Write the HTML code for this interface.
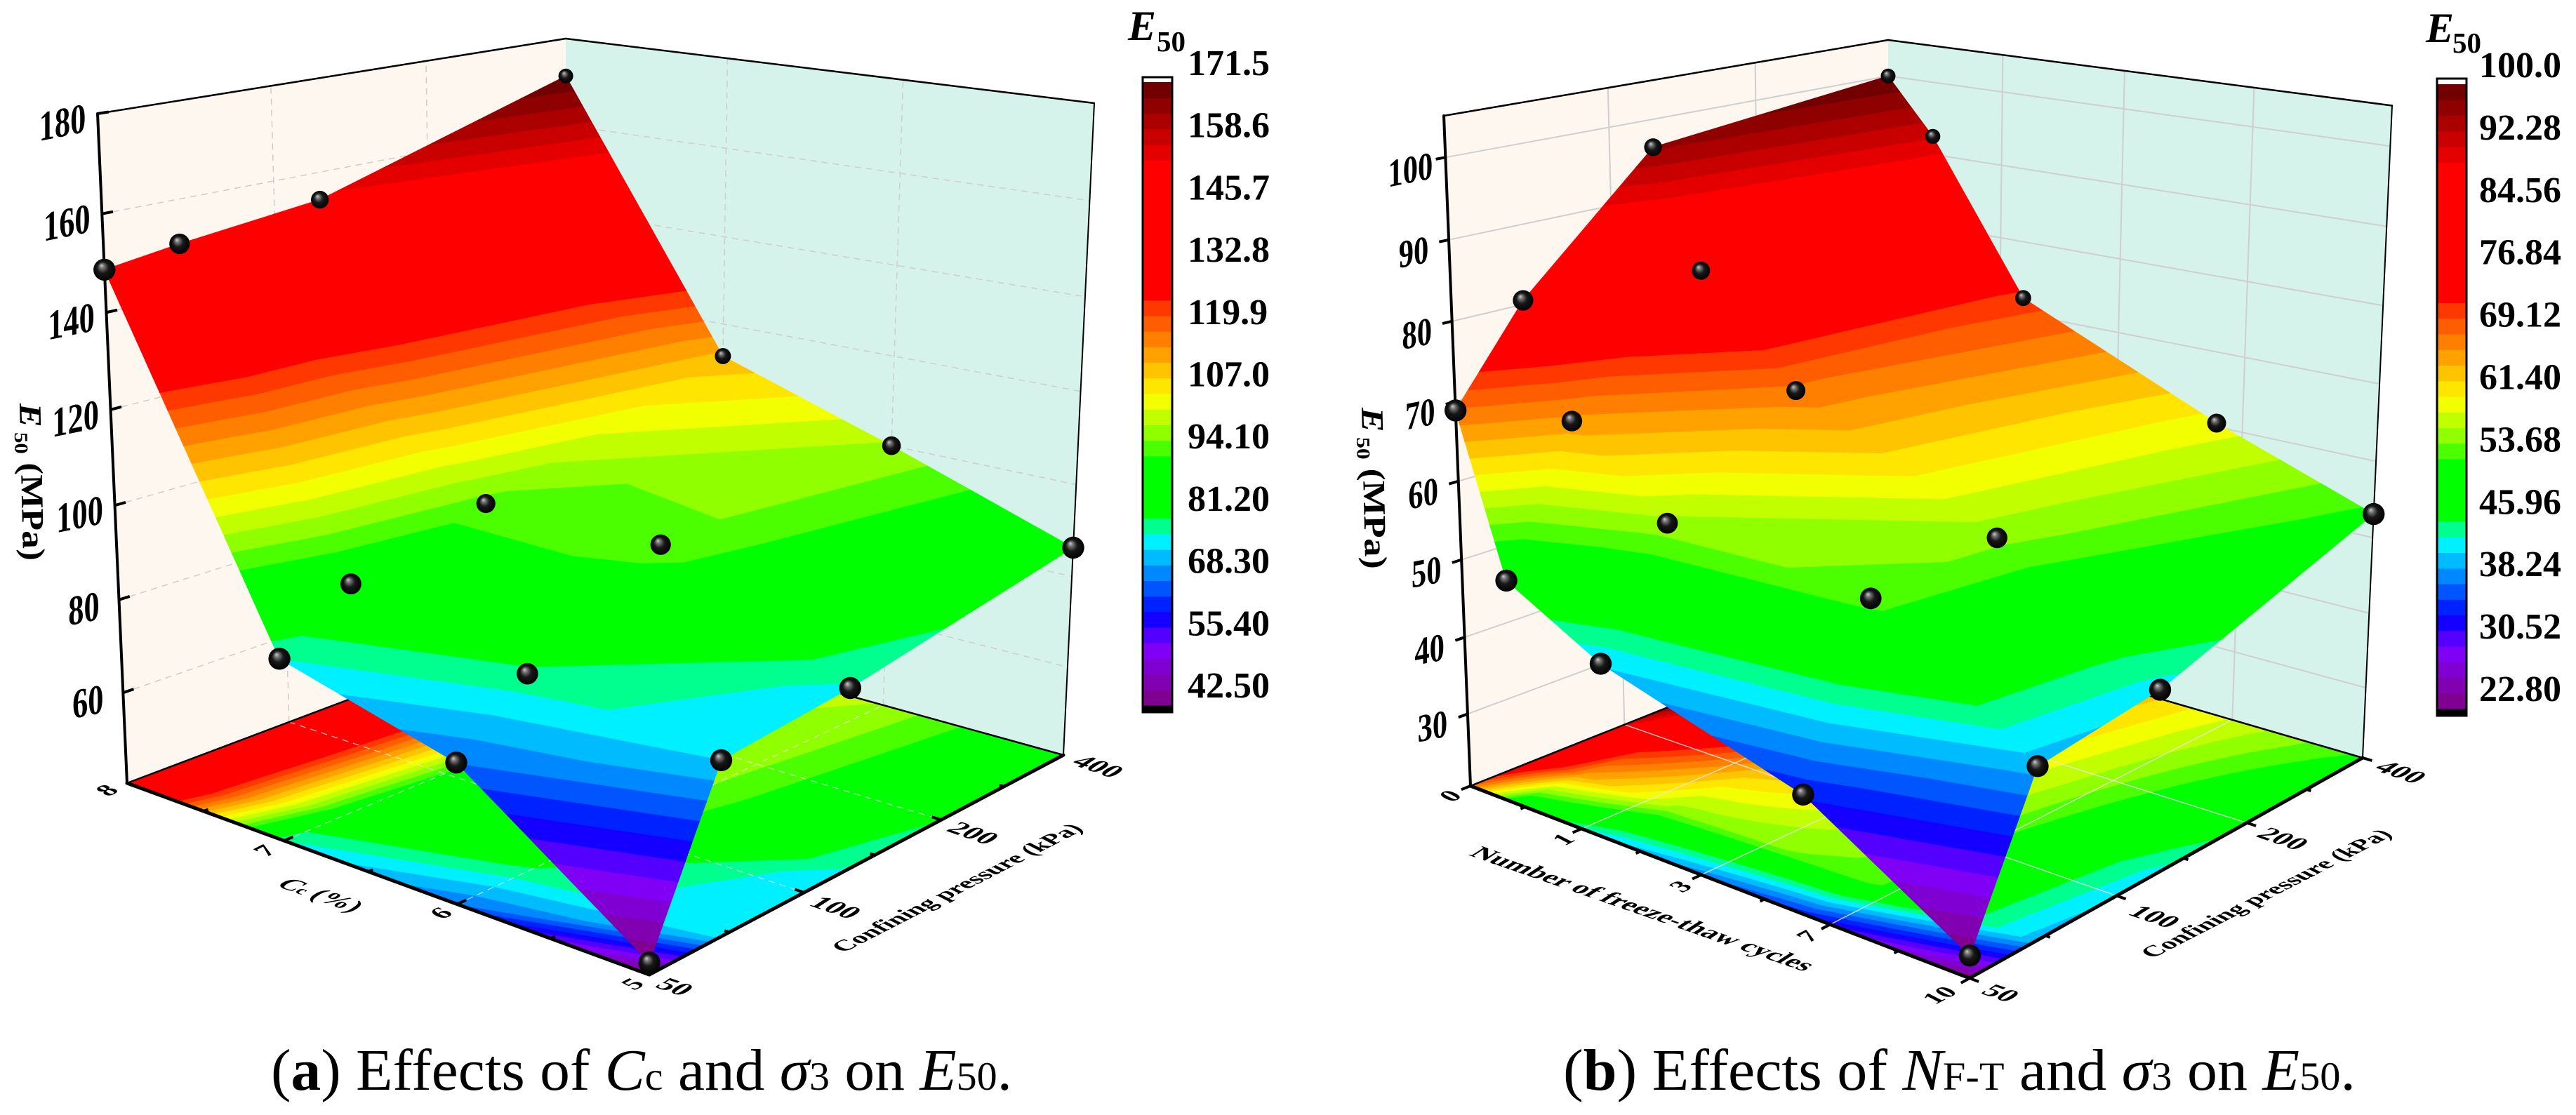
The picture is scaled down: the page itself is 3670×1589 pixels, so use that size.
<!DOCTYPE html>
<html lang="en">
<head>
<meta charset="utf-8">
<title>E50 response surfaces</title>
<style>
html,body{margin:0;padding:0;background:#fff;}
svg{display:block;font-family:"Liberation Serif",serif;}
.b{font-weight:bold;}
</style>
</head>
<body>
<svg id="root" xmlns="http://www.w3.org/2000/svg" width="3670" height="1589" viewBox="0 0 3670 1589">
<defs>
<radialGradient id="sphere" cx="0.5" cy="0.5" r="0.52" fx="0.36" fy="0.3">
<stop offset="0" stop-color="#cfcfcf"/>
<stop offset="0.2" stop-color="#747474"/>
<stop offset="0.5" stop-color="#181818"/>
<stop offset="1" stop-color="#000"/>
</radialGradient>
</defs>
<rect width="3670" height="1589" fill="#fff"/>
<g id="chart-a"></g>
<g id="chart-b"></g>

<text x="1607" y="57" font-size="60" class="b" font-style="italic">E</text>
<text x="1648" y="73" font-size="41" class="b">50</text>
<text x="3456" y="60" font-size="60" class="b" font-style="italic">E</text>
<text x="3494" y="75" font-size="41" class="b">50</text>

<text transform="translate(28,575) rotate(88.7) scale(1.14,1)" font-size="45" class="b"><tspan font-style="italic">E</tspan><tspan font-size="27" dy="8" dx="6">50</tspan><tspan dy="-8"> (MPa)</tspan></text>
<text transform="translate(1940,581) rotate(88.7) scale(1.17,1)" font-size="45" class="b"><tspan font-style="italic">E</tspan><tspan font-size="27" dy="8" dx="6">50</tspan><tspan dy="-8"> (MPa)</tspan></text>

<text x="386" y="1553" font-size="84" textLength="1056" lengthAdjust="spacingAndGlyphs">(<tspan class="b">a</tspan>) Effects of <tspan font-style="italic">C</tspan><tspan font-size="57">c</tspan> and <tspan font-style="italic">σ</tspan><tspan font-size="57">3</tspan> on <tspan font-style="italic">E</tspan><tspan font-size="57">50</tspan>.</text>
<text x="2227" y="1553" font-size="84" textLength="1129" lengthAdjust="spacingAndGlyphs">(<tspan class="b">b</tspan>) Effects of <tspan font-style="italic">N</tspan><tspan font-size="57">F-T</tspan> and <tspan font-style="italic">σ</tspan><tspan font-size="57">3</tspan> on <tspan font-style="italic">E</tspan><tspan font-size="57">50</tspan>.</text>
</svg>

<script>
/* ---------- chart data ---------- */
const sigmaValues = [50, 100, 200, 400];
const sigmaTickLabels = ['50', '100', '200', '400'];

const ccValues = [8, 7, 6, 5];
const ccTickLabels = ['8', '7', '6', '5'];
const zTicksA = [60, 80, 100, 120, 140, 160, 180];
const colorbarLabelsA = ['171.5','158.6','145.7','132.8','119.9','107.0','94.10','81.20','68.30','55.40','42.50'];
/* rows follow ccValues, columns follow sigmaValues */
const e50RowCc8 = [148.7, 150.8, 154.1, 171.4];
const e50RowCc7 = [78.0, 88.3, 95.9, 112.6];
const e50RowCc6 = [68.4, 80.3, 96.4, 100.0];
const e50RowCc5 = [42.6, 74.7, 77.4, 86.3];

const cyclesValues = [0, 1, 3, 7, 10];
const cyclesTickLabels = ['0', '1', '3', '7', '10'];
const zTicksB = [30, 40, 50, 60, 70, 80, 90, 100];
const colorbarLabelsB = ['100.0','92.28','84.56','76.84','69.12','61.40','53.68','45.96','38.24','30.52','22.80'];
/* rows follow cyclesValues, columns follow sigmaValues */
const e50RowN0 = [68.9, 80.5, 96.4, 100.0];
const e50RowN1 = [49.1, 66.6, 81.5, 92.5];
const e50RowN3 = [42.4, 56.9, 68.6, 72.2];
const e50RowN7 = [34.8, 54.7, 56.2, 60.5];
const e50RowN10 = [23.1, 41.0, 43.1, 53.1];

/* ---------- colour map ---------- */
const cmapStops = [
  [0.000, [128, 0, 128]],
  [0.095, [128, 0, 255]],
  [0.146, [0, 0, 255]],
  [0.270, [0, 255, 255]],
  [0.310, [0, 255, 0]],
  [0.405, [0, 255, 0]],
  [0.415, [100, 255, 0]],
  [0.494, [255, 255, 0]],
  [0.635, [255, 64, 0]],
  [0.655, [255, 0, 0]],
  [0.865, [255, 0, 0]],
  [1.000, [100, 0, 0]]
];
const LEVELS = 40;

function cmap(s) {
  for (let i = 1; i < cmapStops.length; i++) {
    if (s <= cmapStops[i][0]) {
      const a = cmapStops[i - 1], b = cmapStops[i];
      const t = (s - a[0]) / (b[0] - a[0]);
      const c = a[1].map((v, k) => Math.round(v + (b[1][k] - v) * t));
      return 'rgb(' + c.join(',') + ')';
    }
  }
  return 'rgb(100,0,0)';
}

const SVGNS = 'http://www.w3.org/2000/svg';
function make(parent, tag, attrs, text) {
  const el = document.createElementNS(SVGNS, tag);
  for (const k in attrs) el.setAttribute(k, attrs[k]);
  if (text !== undefined) el.textContent = text;
  parent.appendChild(el);
  return el;
}

function homography(p0, p1, p2, p3) {
  const dx1 = p1[0] - p2[0], dx2 = p3[0] - p2[0], sx = p0[0] - p1[0] + p2[0] - p3[0];
  const dy1 = p1[1] - p2[1], dy2 = p3[1] - p2[1], sy = p0[1] - p1[1] + p2[1] - p3[1];
  const den = dx1 * dy2 - dx2 * dy1;
  const g = (sx * dy2 - dx2 * sy) / den, h = (dx1 * sy - sx * dy1) / den;
  const a = p1[0] - p0[0] + g * p1[0], b = p3[0] - p0[0] + h * p3[0], c = p0[0];
  const d = p1[1] - p0[1] + g * p1[1], e = p3[1] - p0[1] + h * p3[1], f = p0[1];
  return (u, v) => {
    const w = g * u + h * v + 1;
    return [(a * u + b * v + c) / w, (d * u + e * v + f) / w];
  };
}

function clipPoly(poly, lim, keepAbove) {
  const out = [];
  for (let i = 0; i < poly.length; i++) {
    const a = poly[i], b = poly[(i + 1) % poly.length];
    const ina = keepAbove ? a.v >= lim : a.v <= lim;
    const inb = keepAbove ? b.v >= lim : b.v <= lim;
    if (ina) out.push(a);
    if (ina !== inb) {
      const t = (lim - a.v) / (b.v - a.v);
      out.push({ x: a.x + (b.x - a.x) * t, y: a.y + (b.y - a.y) * t, v: lim });
    }
  }
  return out;
}

function drawChart(cfg) {
  const root = document.getElementById(cfg.id);
  const floor = homography(cfg.floorL, cfg.floorF, cfg.floorR, cfg.floorB);
  const top = homography(cfg.topL, cfg.topF, cfg.topR, cfg.topB);
  const K = 0.95;

  function project(cf, sf, v) {
    const f = (v - cfg.zMin) / (cfg.zMax - cfg.zMin);
    const t = f * K / (1 + f * (K - 1));
    const a = floor(cf, sf), b = top(cf, sf);
    return [a[0] + (b[0] - a[0]) * t, a[1] + (b[1] - a[1]) * t];
  }
  const xFrac = x => (x - cfg.xValues[0]) / (cfg.xValues[cfg.xValues.length - 1] - cfg.xValues[0]);
  const sFrac = s => (s - sigmaValues[0]) / (sigmaValues[sigmaValues.length - 1] - sigmaValues[0]);
  const pts = list => list.map(p => p[0].toFixed(1) + ',' + p[1].toFixed(1)).join(' ');

  /* walls */
  const wallL = make(root, 'polygon', { points: pts([cfg.floorL, cfg.floorB, cfg.topB, cfg.topL]), fill: '#fdf7f0' });
  
  
  const wallR = make(root, 'polygon', { points: pts([cfg.floorB, cfg.floorR, cfg.topR, cfg.topB]), fill: '#d5f3eb' });
  
  

  const nX = cfg.xTickLabels.length, nS = sigmaTickLabels.length;
  const gridStyle = { stroke: cfg.gridColor, 'stroke-width': cfg.gridWidth, fill: 'none' };
  if (cfg.gridDash) gridStyle['stroke-dasharray'] = cfg.gridDash;

  function gridLine(a, b, name, extra) {
    const l = make(root, 'line', Object.assign({}, gridStyle, { x1: a[0], y1: a[1], x2: b[0], y2: b[1] }, extra || {}));
    
    
  }

  /* wall grid lines */
  cfg.zTicks.forEach(v => {
    gridLine(project(0, 0, v), project(0, 1, v), 'left-wall-gridline');
    gridLine(project(0, 1, v), project(1, 1, v), 'right-wall-gridline');
  });
  for (let j = 1; j < nS - 1; j++) {
    const sf = j / (nS - 1);
    gridLine(project(0, sf, cfg.zMin), project(0, sf, cfg.zMax), 'left-wall-gridline');
  }
  for (let i = 1; i < nX - 1; i++) {
    const cf = i / (nX - 1);
    gridLine(project(cf, 1, cfg.zMin), project(cf, 1, cfg.zMax), 'right-wall-gridline');
  }

  /* filled contour bands */
  const vLow = parseFloat(cfg.colorbarLabels[cfg.colorbarLabels.length - 1]);
  const vHigh = parseFloat(cfg.colorbarLabels[0]);
  const step = (vHigh - vLow) / LEVELS;

  function bands(group, bandName, usesHeight, SUB) {
    const paths = new Array(LEVELS).fill('');
    for (let i = 0; i < cfg.xValues.length - 1; i++) {
      for (let j = 0; j < sigmaValues.length - 1; j++) {
        const c0 = xFrac(cfg.xValues[i]), c1 = xFrac(cfg.xValues[i + 1]);
        const s0 = sFrac(sigmaValues[j]), s1 = sFrac(sigmaValues[j + 1]);
        const vert = (p, q) => {
          const u = p / SUB, w = q / SUB;
          const val = cfg.values[i][j] * (1 - u) * (1 - w) + cfg.values[i + 1][j] * u * (1 - w) +
                      cfg.values[i][j + 1] * (1 - u) * w + cfg.values[i + 1][j + 1] * u * w;
          const xy = project(c0 + (c1 - c0) * u, s0 + (s1 - s0) * w, usesHeight ? val : cfg.zMin);
          return { x: xy[0], y: xy[1], v: val };
        };
        for (let p = 0; p < SUB; p++) {
          for (let q = 0; q < SUB; q++) {
            const a = vert(p, q), b = vert(p + 1, q), c = vert(p + 1, q + 1), d = vert(p, q + 1);
            [[a, b, c], [a, c, d]].forEach(tri => {
              const lo = Math.min(tri[0].v, tri[1].v, tri[2].v), hi = Math.max(tri[0].v, tri[1].v, tri[2].v);
              let k0 = Math.floor((lo - vLow) / step), k1 = Math.floor((hi - vLow) / step);
              k0 = Math.max(0, Math.min(LEVELS - 1, k0));
              k1 = Math.max(0, Math.min(LEVELS - 1, k1));
              for (let k = k0; k <= k1; k++) {
                let poly = tri;
                if (k > 0) poly = clipPoly(poly, vLow + k * step, true);
                if (poly.length && k < LEVELS - 1) poly = clipPoly(poly, vLow + (k + 1) * step, false);
                if (poly.length < 3) continue;
                paths[k] += 'M' + poly.map(P => P.x.toFixed(1) + ' ' + P.y.toFixed(1)).join('L') + 'Z';
              }
            });
          }
        }
      }
    }
    paths.forEach((d, k) => {
      if (!d) return;
      const col = cmap((k + 0.5) / LEVELS);
      const el = make(group, 'path', { d: d, fill: col, stroke: col, 'stroke-width': 0.9, 'stroke-linejoin': 'round' });
      
      
    });
  }

  const floorGroup = make(root, 'g', {});
  
  
  bands(floorGroup, 'floor-contour-band', false, cfg.floorSub);

  /* floor grid */
  const floorGridStyle = { stroke: cfg.floorGrid, 'stroke-width': cfg.floorGridWidth, opacity: cfg.floorGridOpacity };
  for (let j = 1; j < nS - 1; j++) {
    const sf = j / (nS - 1);
    gridLine(project(0, sf, cfg.zMin), project(1, sf, cfg.zMin), 'floor-gridline', floorGridStyle);
  }
  for (let i = 1; i < nX - 1; i++) {
    const cf = i / (nX - 1);
    gridLine(project(cf, 0, cfg.zMin), project(cf, 1, cfg.zMin), 'floor-gridline', floorGridStyle);
  }

  /* box outline */
  function edge(a, b, w, name) {
    const l = make(root, 'line', { x1: a[0], y1: a[1], x2: b[0], y2: b[1], stroke: '#000', 'stroke-width': w, 'stroke-linecap': 'round' });
    
    
  }
  edge(cfg.topL, cfg.topB, 2.5, 'box-edge-top');
  edge(cfg.topB, cfg.topR, 2.5, 'box-edge-top');
  edge(cfg.topR, cfg.floorR, 2, 'box-edge-right');
  edge(cfg.floorR, cfg.floorB, 2.5, 'box-edge-floor');
  edge(cfg.floorL, cfg.floorB, 2.5, 'box-edge-floor');
  edge(cfg.topL, cfg.floorL, 4, 'z-axis-line');
  edge(cfg.floorL, cfg.floorF, 5, 'x-axis-line');
  edge(cfg.floorF, cfg.floorR, 5, 'sigma-axis-line');

  /* ticks */
  function unit(a, b) {
    const dx = b[0] - a[0], dy = b[1] - a[1], m = Math.hypot(dx, dy);
    return [dx / m, dy / m];
  }
  function tick(p, dir, len, name) {
    const l = make(root, 'line', {
      x1: p[0], y1: p[1], x2: p[0] + dir[0] * len, y2: p[1] + dir[1] * len,
      stroke: '#000', 'stroke-width': 4
    });
    
    
  }
  cfg.zTicks.forEach(v => {
    const p = project(0, 0, v), d = unit(p, project(0, 0.2, v));
    tick(p, d, cfg.zTickLen, 'z-axis-tick');
    const c = [p[0] + cfg.zLabelDx, p[1] + cfg.zLabelDy];
    const t = make(root, 'text', {
      transform: 'matrix(' + cfg.zTextMatrix.join(' ') + ' ' + c[0].toFixed(1) + ' ' + c[1].toFixed(1) + ')',
      'font-size': cfg.zFont, 'font-weight': 'bold', 'text-anchor': 'middle', y: (cfg.zFont * 0.34).toFixed(1)
    }, String(v));
    
    
  });
  const FLOOR_A = 'matrix(.95 .33 -.74 .48 ';
  const FLOOR_B = 'matrix(.8 -.41 .74 .38 ';
  function floorText(c, matrix, str, name, size) {
    const t = make(root, 'text', {
      transform: matrix + c[0] + ' ' + c[1] + ')',
      'font-size': size, 'font-weight': 'bold', 'text-anchor': 'middle', y: (size * 0.34).toFixed(1)
    }, str);
    
    
    return t;
  }
  for (let i = 0; i <= (nX - 1) * 2; i++) {
    const cf = i / ((nX - 1) * 2), major = i % 2 === 0;
    const p = project(cf, 0, cfg.zMin);
    const d = unit(p, project(cf, 0.2, cfg.zMin));
    const len = (major ? 14 : 7) * cfg.floorTickSign;
    if (i > 0 && i < (nX - 1) * 2 || cfg.floorTickSign < 0) tick(p, d, len, major ? 'x-axis-tick' : 'x-axis-minor-tick');
    if (major) floorText(cfg.xLabelPos[i / 2], FLOOR_B, cfg.xTickLabels[i / 2], 'x-axis-tick-label', 42);
  }
  for (let j = 0; j <= (nS - 1) * 2; j++) {
    const sf = j / ((nS - 1) * 2), major = j % 2 === 0;
    const p = project(1, sf, cfg.zMin);
    const d = unit(p, project(0.8, sf, cfg.zMin));
    const len = (major ? 14 : 7) * cfg.floorTickSign;
    if (j > 0 && j < (nS - 1) * 2 || cfg.floorTickSign < 0) tick(p, d, len, major ? 'sigma-axis-tick' : 'sigma-axis-minor-tick');
    if (major) floorText(cfg.sLabelPos[j / 2], FLOOR_A, sigmaTickLabels[j / 2], 'sigma-axis-tick-label', 42);
  }
  floorText(cfg.sTitlePos, FLOOR_B, 'Confining pressure (kPa)', 'sigma-axis-title', 40);
  const xTitle = floorText(cfg.xTitlePos, FLOOR_A, cfg.xTitle, 'x-axis-title', 40);
  if (cfg.xTitleSub) {
    xTitle.textContent = '';
    const t1 = make(xTitle, 'tspan', { 'font-style': 'italic' }, 'C');
    
    
    const t2 = make(xTitle, 'tspan', { 'font-size': 26 }, 'c');
    
    
    const t3 = make(xTitle, 'tspan', {}, ' (%)');
    
    
  }

  /* surface */
  const surfGroup = make(root, 'g', {});
  
  
  bands(surfGroup, 'surface-band', true, 1);

  /* data points */
  cfg.xValues.forEach((x, i) => {
    sigmaValues.forEach((s, j) => {
      const cf = xFrac(x), sf = sFrac(s);
      const p = project(cf, sf, cfg.values[i][j]);
      const depth = 1 - (1 - cf) * sf;
      const r = 10.5 + 5.2 * Math.pow(depth, 1.5);
      const dot = make(root, 'circle', { cx: p[0].toFixed(1), cy: p[1].toFixed(1), r: r.toFixed(1), fill: 'url(#sphere)' });
      
      
    });
  });

  /* colour bar */
  const bar = cfg.bar;
  const cbGroup = make(root, 'g', {});
  
  
  const lvlH = (bar.levelBottom - bar.levelTop) / LEVELS;
  const blackCap = make(cbGroup, 'rect', { x: bar.x, y: bar.levelBottom, width: bar.w, height: bar.bottom - bar.levelBottom, fill: '#000' });
  
  
  for (let k = 0; k < LEVELS; k++) {
    const col = cmap((k + 0.5) / LEVELS);
    const swatch = make(cbGroup, 'rect', {
      x: bar.x, y: (bar.levelBottom - (k + 1) * lvlH).toFixed(2), width: bar.w, height: (lvlH + 0.6).toFixed(2), fill: col
    });
    
    
  }
  const frame = make(cbGroup, 'rect', { x: bar.x, y: bar.top, width: bar.w, height: bar.bottom - bar.top, fill: 'none', stroke: '#000', 'stroke-width': 3 });
  
  
  cfg.colorbarLabels.forEach((lab, i) => {
    const t = make(cbGroup, 'text', { x: bar.labelX, y: (bar.labelY + i * bar.labelStep).toFixed(1), 'font-size': 52, 'font-weight': 'bold' }, lab);
    
    
  });
}

drawChart({
  id: 'chart-a',
  xValues: ccValues, xTickLabels: ccTickLabels,
  values: [e50RowCc8, e50RowCc7, e50RowCc6, e50RowCc5],
  zTicks: zTicksA, zMin: 40.3, zMax: 180,
  colorbarLabels: colorbarLabelsA,
  floorL: [181, 1116], floorF: [925, 1389], floorR: [1515, 1076], floorB: [807, 880],
  topL: [139, 162], topF: [938, 290], topR: [1559, 147], topB: [806, 55],
  gridColor: '#cfcdc9', gridWidth: 1.5, gridDash: '9 7', floorGrid: '#f0f0f0', floorGridWidth: 1.3, floorGridOpacity: 0.75,
  floorSub: 1,
  zTickLen: 16, floorTickSign: 1,
  zLabelDx: -50, zLabelDy: 12, zFont: 60, zTextMatrix: [0.74, -0.15, 0, 1],
  xLabelPos: [[152, 1126], [377, 1212], [628, 1301], [901, 1402]],
  sLabelPos: [[962, 1406], [1191, 1293], [1387, 1187], [1565, 1092]],
  sTitlePos: [1363, 1265], xTitlePos: [458, 1275], xTitle: 'Cc (%)', xTitleSub: true,
  bar: { x: 1628, w: 42, top: 110, bottom: 1015, levelTop: 117, levelBottom: 1005, labelX: 1692, labelY: 107, labelStep: 88.7 }
});

drawChart({
  id: 'chart-b',
  xValues: cyclesValues, xTickLabels: cyclesTickLabels,
  values: [e50RowN0, e50RowN1, e50RowN3, e50RowN7, e50RowN10],
  zTicks: zTicksB, zMin: 20.5, zMax: 105,
  colorbarLabels: colorbarLabelsB,
  floorL: [2095, 1120], floorF: [2806, 1394], floorR: [3366, 1080], floorB: [2690, 883],
  topL: [2057, 165], topF: [2818, 294], topR: [3408, 150.5], topB: [2690, 57],
  gridColor: '#cfcfcf', gridWidth: 2, gridDash: '', floorGrid: '#e4e4e4', floorGridWidth: 1.4, floorGridOpacity: 0.9,
  floorSub: 6,
  zTickLen: -14, floorTickSign: -1,
  zLabelDx: -50, zLabelDy: 17, zFont: 56, zTextMatrix: [0.76, -0.15, 0, 1],
  xLabelPos: [[2066, 1134], [2227, 1196], [2394, 1263], [2575, 1334], [2763, 1418]],
  sLabelPos: [[2851, 1415], [3070, 1306], [3253, 1195], [3421, 1100]],
  sTitlePos: [3228, 1273], xTitlePos: [2341, 1295], xTitle: 'Number of freeze-thaw cycles', xTitleSub: false,
  bar: { x: 3472, w: 42, top: 112, bottom: 1020, levelTop: 120, levelBottom: 1010, labelX: 3532, labelY: 110, labelStep: 88.9 }
});
</script>
</body>
</html>
